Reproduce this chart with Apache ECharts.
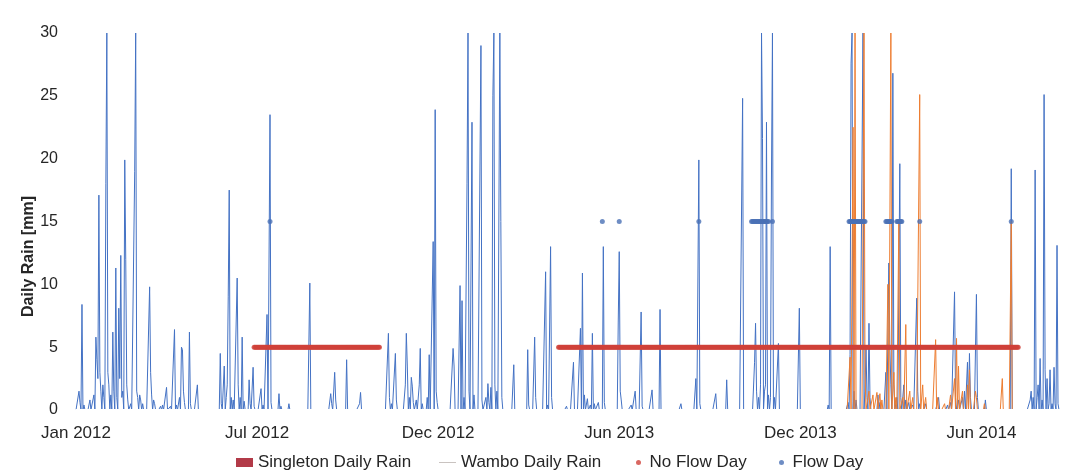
<!DOCTYPE html>
<html>
<head>
<meta charset="utf-8">
<script src="https://cdn.jsdelivr.net/npm/echarts@6/dist/echarts.min.js"></script>
<style>
html,body{margin:0;padding:0;background:#fff;}
#c{width:1069px;height:470px;}
</style>
</head>
<body>
<div id="c"></div>
<script>
// Day index = days since 1 Jan 2012
const axisStartUTC = Date.UTC(2012, 0, 1);
const tickLabelDays = [0, 182, 364, 546, 728, 910];
const yTicks = [0, 5, 10, 15, 20, 25, 30];
const seriesNames = ['Singleton Daily Rain', 'Wambo Daily Rain', 'No Flow Day', 'Flow Day'];

// Singleton daily rain [day, mm] (days not listed are 0 mm)
const singletonRain = [
  [3,1.5],[4,0.6],[6,8.4],[8,0.4],[14,0.8],[18,1.2],[20,5.8],[21,4.0],[22,2.5],[23,17.1],[24,3.0],[25,1.5],
  [27,2.0],[28,1.0],[30,18.0],[31,30],[32,3.0],[33,2.0],[35,1.2],[37,6.2],[38,1.5],[40,11.3],[41,1.0],[43,8.1],
  [44,2.5],[45,12.3],[46,1.0],[47,1.5],[49,19.9],[50,12.0],[51,2.0],[52,0.8],[55,0.5],[59,19],[60,30],[61,1.5],
  [62,1.0],[64,1.2],[65,0.8],[67,0.5],[74,9.8],[75,3.0],[76,1.2],[78,0.8],[79,0.5],[85,0.3],[87,0.4],[91,1.8],
  [95,0.3],[99,6.4],[101,0.4],[104,1.0],[106,5.0],[107,4.8],[108,1.5],[109,0.6],[114,6.2],[115,0.5],[122,2.0],
  [145,4.5],[146,0.5],[149,3.5],[151,1.0],[152,2.0],[153,9.0],[154,17.5],[156,1.0],[158,0.8],[162,10.5],[163,2.0],
  [165,1.0],[167,5.8],[169,0.7],[174,2.4],[175,0.5],[178,3.4],[179,0.3],[186,1.7],[188,0.4],[192,7.6],[195,23.5],
  [196,0.6],[204,1.3],[206,0.3],[214,0.5],
  [235,10.1],[256,1.3],[257,0.5],[260,3.0],[261,0.8],[272,4.0],[285,0.5],[286,1.4],[314,6.1],[315,1.0],[317,0.5],
  [321,4.5],[322,0.8],[331,2.0],[332,6.1],[333,3.5],[335,1.0],[337,2.6],[338,1.9],[339,0.6],[342,0.8],[345,2.0],
  [346,4.9],[348,0.5],[353,1.0],[355,4.4],[359,13.4],[361,23.9],[362,1.5],[363,0.6],
  [379,4.9],[380,3.5],[386,9.9],[388,8.7],[390,1.0],[393,18],[394,30],[395,1.5],[398,22.9],[400,1.2],[407,29],
  [408,0.8],[412,1.0],[414,2.1],[415,0.6],[417,1.8],[419,25],[420,30],[421,2.0],[423,1.5],[426,30],[427,15],
  [428,1.0],[440,3.6],[454,4.8],[455,0.4],[461,5.8],[462,1.0],[472,11.0],[474,0.4],[477,13.0],[478,1.0],[493,0.3],
  [500,3.8],[507,6.5],[509,10.9],[511,1.2],[514,0.9],[517,0.4],[519,6.1],[521,0.5],[525,0.6],[530,13.0],[531,0.6],
  [545,7.0],[546,12.6],[547,1.5],[548,0.8],
  [558,0.4],[562,1.5],[568,7.8],[569,0.3],[579,1.6],[587,8.0],[608,0.5],[623,2.5],[626,19.9],[627,0.5],[643,1.3],
  [654,2.4],[670,24.8],[682,3.8],[683,6.9],[684,1.5],[686,1.0],[688,2.0],[689,30],[690,21.6],[692,1.5],[693,2.0],
  [694,22.9],[696,1.2],[698,1.0],[699,18.7],[700,30],[702,1.0],[706,5.3],[727,8.1],
  [756,0.4],[758,13],[776,0.6],[778,4.4],[779,27.6],[780,30],[782,1.5],[784,0.8],[791,30],[793,1.5],[794,5.0],
  [795,1.0],[797,6.9],[798,1.0],[806,1.2],[808,0.6],[814,3.0],[817,11.7],[818,5.0],[819,2.0],[821,26.8],[822,2.0],
  [825,1.0],[828,19.6],[829,1.0],[832,2.0],[834,0.8],[837,0.6],[841,0.4],[845,8.9],[846,1.5],[848,0.5],[854,0.5],
  [867,1.0],[876,0.4],[879,0.6],[883,9.4],[884,1.0],[887,0.8],[891,1.0],[893,1.5],[896,3.8],[898,4.5],[899,1.0],
  [905,9.2],[906,1.0],[914,0.8],[940,19.2],[959,0.8],[960,1.5],[962,1.0],[964,19.1],[966,1.0],[967,2.0],[969,4.1],
  [971,0.8],[973,25.1],[974,3.2],[976,2.5],[978,0.5],[979,3.2],[981,0.5],[983,3.4],[984,0.5],[986,13.1],[987,0.5]
];
const singletonRange = [0, 988];

// Wambo daily rain [day, mm] (recorded only within wamboRange)
const wamboRain = [
  [778,4.2],[781,22.5],[783,30],[792,30],[793,3],[797,1.5],[801,1.2],[805,1.4],[808,1.3],[810,0.8],[816,10],
  [819,30],[822,3],[824,1],[827,15],[831,1],[834,6.8],[838,1.5],[841,1.0],[848,25.1],[851,2],[854,1],[864,5.6],
  [866,1],[873,0.5],[879,1.2],[883,2.5],[885,5.7],[887,3.5],[891,1.5],[896,2.0],[898,3.2],[904,1.5],[905,1.0],
  [913,0.5],[931,2.5],[940,15]
];
const wamboRange = [775, 941];

// Flow status
const noFlowPeriods = [[179, 305], [485, 947]];
const flowDays = [195, 529, 546, 626,
  679,680,681,682,683,684,685,686,687,688,689,690,691,692,693,694,695,696,700,
  777,778,779,780,781,782,783,784,785,786,787,788,789,790,791,792,793,
  814,815,816,817,818,819,820, 825,826,827,828,829,830, 848, 940];
const noFlowLevel = 5;
const flowLevel = 15;

function dailySeries(pairs, range) {
  const m = new Map(pairs.map(p => [p[0], p[1]]));
  const out = [];
  for (let d = range[0]; d <= range[1]; d++) out.push([d, m.has(d) ? m.get(d) : 0]);
  return out;
}
const noFlowData = [];
noFlowPeriods.forEach(([a, b]) => { for (let d = a; d <= b; d++) noFlowData.push([d, noFlowLevel]); });
const flowData = flowDays.map(d => [d, flowLevel]);

const MONTHS = ['Jan','Feb','Mar','Apr','May','Jun','Jul','Aug','Sep','Oct','Nov','Dec'];
function dayLabel(v) {
  if (tickLabelDays.indexOf(Math.round(v)) < 0) return '';
  const dt = new Date(axisStartUTC + Math.round(v) * 86400000);
  return MONTHS[dt.getUTCMonth()] + ' ' + dt.getUTCFullYear();
}

const FONT = '"Liberation Sans", Arial, sans-serif';
const chart = echarts.init(document.getElementById('c'), null, {renderer: 'canvas'});
function legendBox(name, left, w, h, icon, color) {
  return {
    left: left, top: 449, orient: 'horizontal', itemWidth: w, itemHeight: h, icon: icon,
    symbolKeepAspect: true,
    data: [{name: name, icon: icon, itemStyle: {color: color, borderWidth: 0}, lineStyle: {width: 0}}],
    textStyle: {fontFamily: FONT, fontSize: 17, color: '#262626'},
    selectedMode: false
  };
}
chart.setOption({
  animation: false,
  backgroundColor: '#fff',
  legend: [
    legendBox(seriesNames[0], 231, 17, 9, 'rect', '#B23A48'),
    legendBox(seriesNames[1], 434, 17, 1, 'rect', '#C9C3C0'),
    legendBox(seriesNames[2], 631, 12, 5, 'circle', '#D0413A'),
    legendBox(seriesNames[3], 774, 12, 5, 'circle', '#4A70B5')
  ],
  grid: {left: 76, top: 33, width: 985, height: 377, containLabel: false},
  xAxis: {
    type: 'value', min: 0, max: 990, interval: 182, z: 5,
    axisLine: {show: true, onZero: false, lineStyle: {color: '#ffffff', width: 2}},
    axisTick: {show: false},
    splitLine: {show: false},
    axisLabel: {formatter: dayLabel, fontFamily: FONT, fontSize: 17, color: '#262626', margin: 15,
      showMinLabel: true, showMaxLabel: true}
  },
  yAxis: {
    type: 'value', min: yTicks[0], max: yTicks[yTicks.length - 1], interval: 5,
    name: 'Daily Rain [mm]', nameLocation: 'middle', nameGap: 39, nameRotate: 90, nameMoveOverlap: false,
    nameTextStyle: {fontFamily: FONT, fontSize: 16, fontWeight: 'bold', color: '#262626', padding: [0, 70, 0, 0]},
    axisLine: {show: false}, axisTick: {show: false}, splitLine: {show: false},
    axisLabel: {fontFamily: FONT, fontSize: 16, color: '#262626', margin: 18}
  },
  series: [
    {name: seriesNames[0], type: 'line', data: dailySeries(singletonRain, singletonRange), showSymbol: false,
      symbol: 'none', lineStyle: {color: '#4472C4', width: 1}, itemStyle: {color: '#4472C4'}, z: 2},
    {name: seriesNames[1], type: 'line', data: dailySeries(wamboRain, wamboRange), showSymbol: false,
      symbol: 'none', lineStyle: {color: '#ED7D31', width: 1}, itemStyle: {color: '#ED7D31'}, z: 3},
    {name: seriesNames[2], type: 'scatter', data: noFlowData, symbol: 'circle', symbolSize: 5,
      itemStyle: {color: '#D0413A'}, z: 4},
    {name: seriesNames[3], type: 'scatter', data: flowData, symbol: 'circle', symbolSize: 5,
      itemStyle: {color: '#4A70B5'}, z: 4}
  ]
});
</script>
</body>
</html>
